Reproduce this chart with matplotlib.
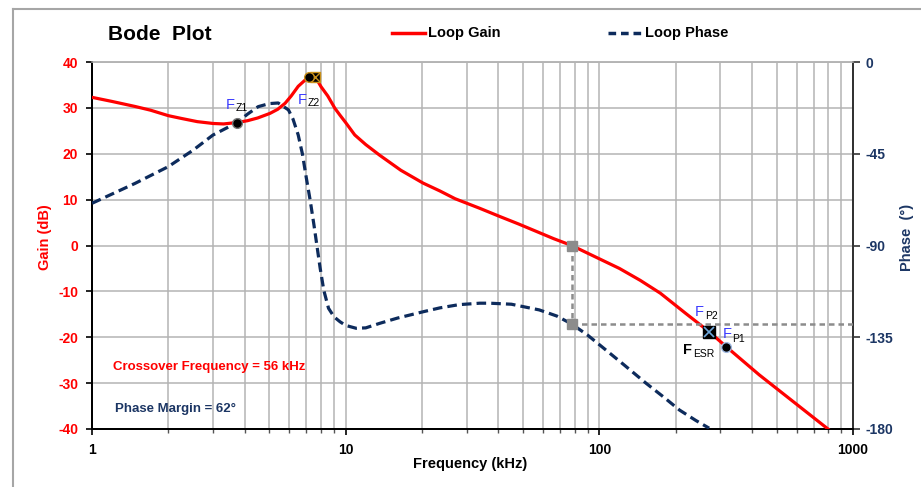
import matplotlib
matplotlib.use('Agg')
import matplotlib.pyplot as plt
from matplotlib.lines import Line2D
from matplotlib.ticker import LogLocator, NullFormatter

plt.rcParams['font.family'] = ['Liberation Sans', 'DejaVu Sans']
plt.rcParams['axes.unicode_minus'] = False

# ---------------- data ----------------
freq_gain = [1.0, 1.2, 1.48, 1.7, 2.0, 2.25, 2.6, 3.0, 3.3, 3.72, 4.1, 4.5, 5.03, 5.4, 5.77,
             6.1, 6.5, 6.9, 7.2, 7.6, 8.0, 8.5, 9.07, 9.5, 10.0, 10.86, 12.0, 13.6, 16.5,
             20.2, 23.5, 27, 33.8, 40.6, 48, 58, 66, 77.8, 100, 120, 145, 174, 219, 271,
             317, 427, 797]
gain_db = [32.3, 31.4, 30.3, 29.5, 28.3, 27.7, 27.0, 26.6, 26.5, 26.8, 27.2, 27.8, 28.8, 29.7, 31.0,
           32.6, 34.7, 36.0, 36.8, 36.7, 34.6, 32.6, 29.9, 28.4, 26.8, 24.1, 22.0, 19.7, 16.4,
           13.6, 11.9, 10.2, 8.1, 6.3, 4.7, 2.8, 1.5, 0.0, -2.9, -5.0, -7.6, -10.4, -14.8, -18.8,
           -22.1, -28.2, -40.0]

freq_phase = [1.0, 1.48, 2.0, 2.5, 3.0, 3.72, 4.1, 4.52, 5.0, 5.42, 5.95, 6.2, 6.5, 6.75, 7.0,
              7.25, 7.5, 7.93, 8.2, 8.56, 9.0, 9.5, 10.0, 11.0, 12.0, 13.6, 16.0, 20.2, 23.5,
              28, 33.8, 37, 45, 58, 68, 77.8, 90, 106, 125, 153, 180, 207, 240, 271]
phase_deg = [-69.3, -59.5, -51.3, -43.3, -35.8, -29.8, -25.6, -21.9, -20.4, -20.1, -23.5, -28.0,
             -35.8, -45.0, -57.0, -68.0, -80.0, -101.0, -112.0, -120.8, -125.0, -127.4, -129.2,
             -130.6, -130.4, -128.2, -125.6, -122.5, -120.6, -119.0, -118.3, -118.3, -118.8, -121.6,
             -124.6, -128.5, -134.0, -141.2, -148.5, -157.6, -164.5, -170.7, -175.8, -179.6]

x_ticks = [1, 10, 100, 1000]
x_labels = ['1', '10', '100', '1000']
gain_ticks = [-40, -30, -20, -10, 0, 10, 20, 30, 40]
phase_ticks = [0, -45, -90, -135, -180]

fz1 = (3.72, 26.8)
fz2 = (7.2, 36.8)
fz2_sq = (7.55, 36.8)
fp2 = (271, -18.8)
fp1 = (317, -22.1)
cross_f = 77.8
cross_gain = 0.0
cross_phase = -128.5

RED = '#ff0000'
NAVY = '#0d2b5c'
NAVY_T = '#1c3664'
BLUE = '#3a3aff'
GREY = '#8c8c8c'
GRID = '#b4b4b4'

W, H = 921, 487
fig = plt.figure(figsize=(W / 100, H / 100), dpi=100)

# outer chart border (left and top visible)
fig.add_artist(Line2D([13 / W, 13 / W], [1 - 9 / H, 0], color='#a6a6a6', lw=1.5))
fig.add_artist(Line2D([13 / W, 1], [1 - 9 / H, 1 - 9 / H], color='#a6a6a6', lw=1.5))

ax = fig.add_axes([92 / W, 1 - 429 / H, (853 - 92) / W, (429 - 62) / H])
ax.set_xscale('log')
ax2 = ax.twinx()

# grid
ax.set_xticks(x_ticks)
ax.set_xticklabels(x_labels)
ax.xaxis.set_minor_locator(LogLocator(base=10, subs=range(2, 10)))
ax.xaxis.set_minor_formatter(NullFormatter())
ax.set_yticks(gain_ticks)
ax.grid(True, which='both', axis='x', color=GRID, lw=1.1)
ax.grid(True, which='major', axis='y', color=GRID, lw=1.1)
ax.set_axisbelow(True)

# phase
ax2.plot(freq_phase, phase_deg, color=NAVY, lw=2.3, dashes=(3.0, 1.6),
         dash_capstyle='butt', zorder=3, clip_on=True)

# gain (drawn on top using gain axis scale)
ax2.plot(freq_gain, gain_db, color=RED, lw=2.3, transform=ax.transData, zorder=4,
         solid_joinstyle='round')

# crossover markers / guides
def g2p(g):
    return (g - 40) / 80 * 180

ax2.plot([cross_f, cross_f], [g2p(cross_gain), cross_phase], color=GREY, lw=1.8,
         dashes=(2.2, 1.6), zorder=5)
ax2.plot([cross_f, 1000], [cross_phase, cross_phase], color=GREY, lw=1.8,
         dashes=(2.2, 1.6), zorder=5)
ax2.plot([cross_f], [cross_gain], marker='s', ms=7.5, color=GREY, mec=GREY,
         transform=ax.transData, zorder=6, ls='none')
ax2.plot([cross_f], [cross_phase], marker='s', ms=7.5, color=GREY, mec=GREY, zorder=6, ls='none')

# feature markers
ax2.plot([fz2_sq[0]], [fz2_sq[1]], marker='s', ms=7.5, color='black', mec='#c8901a',
         transform=ax.transData, zorder=7, ls='none')
ax2.plot([fz2_sq[0]], [fz2_sq[1]], marker='x', ms=6.5, color='#c8901a', mew=1,
         transform=ax.transData, zorder=8, ls='none')
ax2.plot([fz2[0]], [fz2[1]], marker='o', ms=7, color='black', mec='#c8901a',
         transform=ax.transData, zorder=8, ls='none')
ax2.plot([fz1[0]], [fz1[1]], marker='o', ms=7, color='black', mec='#777777',
         transform=ax.transData, zorder=8, ls='none')
ax2.plot([fp2[0]], [fp2[1]], marker='s', ms=8, color='black', mec='black',
         transform=ax.transData, zorder=7, ls='none')
ax2.plot([fp2[0]], [fp2[1]], marker='x', ms=7.5, color='#6fa8dc', mew=1.2,
         transform=ax.transData, zorder=8, ls='none')
ax2.plot([fp1[0]], [fp1[1]], marker='o', ms=7, color='black', mec='#9fb8e0',
         transform=ax.transData, zorder=8, ls='none')

# labels for markers
def flabel(pt, foff, soff, sub, fcolor, fbold=False):
    ax2.annotate('F', xy=pt, xycoords=ax.transData, xytext=foff, textcoords='offset pixels',
                 color=fcolor, fontsize=10.5, fontweight='bold' if fbold else 'normal',
                 ha='left', va='baseline', zorder=9)
    ax2.annotate(sub, xy=pt, xycoords=ax.transData, xytext=soff, textcoords='offset pixels',
                 color='black', fontsize=7.5, ha='left', va='baseline', zorder=9)

flabel(fz1, (-11, 14), (-1, 12), 'Z1', BLUE)
flabel(fz2, (-12, -27), (-2, -29), 'Z2', BLUE)
flabel(fp2, (-14, 16), (-4, 13), 'P2', BLUE)
flabel(fp1, (-4, 9), (6, 5), 'P1', BLUE)
flabel(fp2, (-26, -22), (-16, -25), 'ESR', 'black', fbold=True)

# limits
ax.set_xlim(1, 1000)
ax.set_ylim(-40, 40)
ax2.set_ylim(-180, 0)
ax2.set_yticks(phase_ticks)

# spines
for a in (ax, ax2):
    a.spines['top'].set_color(GRID)
    a.spines['top'].set_linewidth(1.1)
    a.spines['left'].set_color('black')
    a.spines['left'].set_linewidth(1.4)
    a.spines['right'].set_color('#333333')
    a.spines['right'].set_linewidth(1.4)
    a.spines['bottom'].set_color('black')
    a.spines['bottom'].set_linewidth(1.4)

ax.tick_params(axis='y', which='major', direction='out', length=4, width=1.2, pad=6,
               labelsize=10, labelcolor=RED, color='black')
ax.tick_params(axis='x', which='major', direction='out', length=4, width=1.2, pad=6,
               labelsize=10, labelcolor='black', color='black')
ax.tick_params(axis='x', which='minor', direction='out', length=3, width=1, color='#555555')
ax2.tick_params(axis='y', which='major', direction='out', length=5, width=1.2, pad=4,
                labelsize=10, labelcolor=NAVY_T, color='#333333')
for lab in ax.get_yticklabels() + ax.get_xticklabels() + ax2.get_yticklabels():
    lab.set_fontweight('bold')

# axis titles
fig.text(45 / W, 1 - 237 / H, 'Gain (dB)', rotation=90, color=RED, fontsize=10.5,
         fontweight='bold', ha='center', va='center')
fig.text(907 / W, 1 - 237 / H, 'Phase  (°)', rotation=90, color=NAVY_T, fontsize=10.5,
         fontweight='bold', ha='center', va='center')
fig.text(470 / W, 1 - 464 / H, 'Frequency (kHz)', color='black', fontsize=10.5,
         fontweight='bold', ha='center', va='center')

# title
fig.text(108 / W, 1 - 35 / H, 'Bode  Plot', fontsize=15, fontweight='bold', ha='left', va='center')

# legend
fig.add_artist(Line2D([392 / W, 425 / W], [1 - 33 / H, 1 - 33 / H], color=RED, lw=2.5))
fig.text(428 / W, 1 - 33 / H, 'Loop Gain', fontsize=10.5, fontweight='bold', ha='left', va='center')
fig.add_artist(Line2D([608 / W, 641 / W], [1 - 33 / H, 1 - 33 / H], color=NAVY, lw=2.5,
                      dashes=(2.2, 1.4)))
fig.text(645 / W, 1 - 33 / H, 'Loop Phase', fontsize=10.5, fontweight='bold', ha='left', va='center')

# info texts
fig.text(113 / W, 1 - 367 / H, 'Crossover Frequency = 56 kHz', color=RED, fontsize=9.5,
         fontweight='bold', ha='left', va='center')
fig.text(115 / W, 1 - 409 / H, 'Phase Margin = 62°', color=NAVY_T, fontsize=9.5,
         fontweight='bold', ha='left', va='center')

fig.savefig('out.png', dpi=100)
